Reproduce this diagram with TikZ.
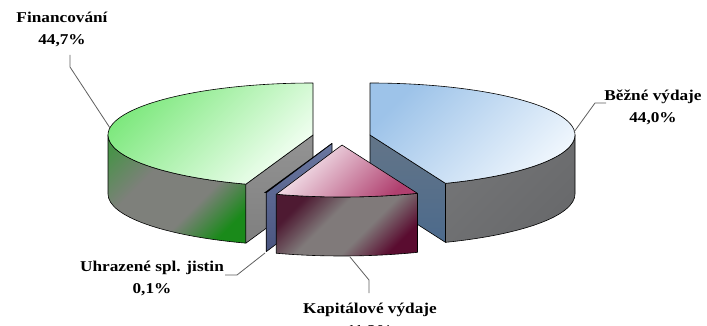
\documentclass[tikz,border=0pt]{standalone}
\usepackage{fontspec}
\setmainfont{Liberation Serif}
\newfontfamily\lblfont[FakeStretch=1.15]{Liberation Serif}
\usetikzlibrary{calc}
\definecolor{blueA}{HTML}{9DC3E9}
\definecolor{blueM}{HTML}{DBEAF7}
\definecolor{blueB}{HTML}{EFF6FD}
\definecolor{blueSide}{HTML}{68696B}
\definecolor{blueFaceA}{HTML}{637588}
\definecolor{blueFaceB}{HTML}{4C6A8C}
\definecolor{greenA}{HTML}{7DE87D}
\definecolor{greenM}{HTML}{DCF8DC}
\definecolor{greenB}{HTML}{F3FFF3}
\definecolor{greenSideA}{HTML}{4A924A}
\definecolor{greenSideM}{HTML}{7E807B}
\definecolor{greenSideB}{HTML}{1A8A1A}
\definecolor{greenFace}{HTML}{8A8A8A}
\definecolor{pinkA}{HTML}{FAF4F8}
\definecolor{pinkM}{HTML}{F0DAE4}
\definecolor{pinkB}{HTML}{B0406F}
\definecolor{pinkSideA}{HTML}{4E1A32}
\definecolor{pinkSideM}{HTML}{807A7A}
\definecolor{pinkSideB}{HTML}{5A0C30}
\definecolor{sliverA}{HTML}{6A77A0}
\definecolor{sliverB}{HTML}{4A5580}
\definecolor{leadc}{HTML}{606060}
\pgfdeclareverticalshading{greensideshade}{100bp}{color(0bp)=(greenSideB); color(24bp)=(greenSideB); color(40bp)=(greenSideM); color(62bp)=(greenSideM); color(80bp)=(greenSideA); color(100bp)=(greenSideA)}
\pgfdeclareverticalshading{pinksideshade}{100bp}{color(0bp)=(pinkSideB); color(26bp)=(pinkSideB); color(42bp)=(pinkSideM); color(58bp)=(pinkSideM); color(74bp)=(pinkSideA); color(100bp)=(pinkSideA)}
\begin{document}
\begin{tikzpicture}[x=1pt,y=1pt,
  edge/.style={draw=black,line width=0.6pt,line join=round},
  diag/.style={shading angle=45},
  lbl/.style={font=\lblfont\bfseries\fontsize{15}{22}\selectfont,align=center,inner sep=0pt,text=black},
  lead/.style={draw=leadc,line width=0.8pt}]
\fill[white] (0,0) rectangle (707,-326);
\useasboundingbox (0,0) rectangle (707,-326);
% centres
\coordinate (G) at (313,-135);
\coordinate (B) at (370,-135);
\coordinate (S) at (332,-143.4);
\coordinate (P) at (342,-145);
% ---- green slice (Financovani)
\shade[edge,shading=greensideshade,diag]
  ($(G)+(180:205 and 52)$) arc[start angle=180,end angle=250.9,x radius=205,y radius=52]
  -- ++(0,-59) arc[start angle=250.9,end angle=180,x radius=205,y radius=52] -- cycle;
\shade[edge,top color=greenFace!92!white,bottom color=greenFace!92!black]
  (G) -- ++(250.9:205 and 52) -- ++(0,-59) -- ($(G)+(0,-59)$) -- cycle;
\shade[edge,top color=greenA,middle color=greenM,bottom color=greenB,diag]
  (G) -- ++(90:205 and 52) arc[start angle=90,end angle=250.9,x radius=205,y radius=52] -- cycle;
% ---- blue slice (Bezne vydaje)
\shade[edge,top color=blueSide!92!white,bottom color=blueSide,diag]
  ($(B)+(0:205 and 52)$) arc[start angle=0,end angle=-68.4,x radius=205,y radius=52]
  -- ++(0,-59) arc[start angle=-68.4,end angle=0,x radius=205,y radius=52] -- cycle;
\shade[edge,top color=blueFaceA,bottom color=blueFaceB]
  (B) -- ++(-68.4:205 and 52) -- ++(0,-59) -- ($(B)+(0,-59)$) -- cycle;
\shade[edge,top color=blueA,middle color=blueM,bottom color=blueB,diag]
  (B) -- ++(90:205 and 52) arc[start angle=90,end angle=-68.4,x radius=205,y radius=52] -- cycle;
% ---- sliver (Uhrazene spl. jistin)
\shade[edge,top color=sliverA,bottom color=sliverB]
  (S) -- ++(-108.7:205 and 52) -- ++(0,-59) -- ($(S)+(0,-59)$) -- cycle;
\fill[sliverA,draw=black,line width=0.6pt]
  (S) -- ++(-109.1:205 and 52) arc[start angle=-109.1,end angle=-108.7,x radius=205,y radius=52] -- cycle;
% ---- pink slice (Kapitalove vydaje)
\shade[edge,shading=pinksideshade,diag]
  ($(P)+(-108.7:205 and 52)$) arc[start angle=-108.7,end angle=-68.4,x radius=205,y radius=52]
  -- ++(0,-59) arc[start angle=-68.4,end angle=-108.7,x radius=205,y radius=52] -- cycle;
\shade[edge,top color=pinkA,middle color=pinkM,bottom color=pinkB,diag]
  (P) -- ++(-108.7:205 and 52) arc[start angle=-108.7,end angle=-68.4,x radius=205,y radius=52] -- cycle;
% ---- labels
\node[lbl] (finL) at (62,-29) {Financování\\44,7\%};
\node[lbl] (bezL) at (653,-107) {Běžné výdaje\\44,0\%};
\node[lbl] (uhrL) at (152,-278) {Uhrazené spl. jistin\\0,1\%};
\node[lbl] (kapL) at (370,-320) {Kapitálové výdaje\\11,2\%};
% ---- leader lines
\coordinate (finA) at (70,-55);
\coordinate (finB) at (70,-67);
\coordinate (finP) at (110,-128);
\draw[lead] (finA) -- (finB) -- (finP);
\coordinate (bezA) at (606,-103);
\coordinate (bezB) at (595,-103);
\coordinate (bezP) at (574,-132);
\draw[lead] (bezA) -- (bezB) -- (bezP);
\coordinate (uhrA) at (225,-275);
\coordinate (uhrB) at (237,-275);
\coordinate (uhrP) at (265,-253);
\draw[lead] (uhrA) -- (uhrB) -- (uhrP);
\coordinate (kapP) at (350,-257);
\coordinate (kapB) at (369,-280);
\coordinate (kapA) at (369,-293);
\draw[lead] (kapP) -- (kapB) -- (kapA);
\end{tikzpicture}
\end{document}
